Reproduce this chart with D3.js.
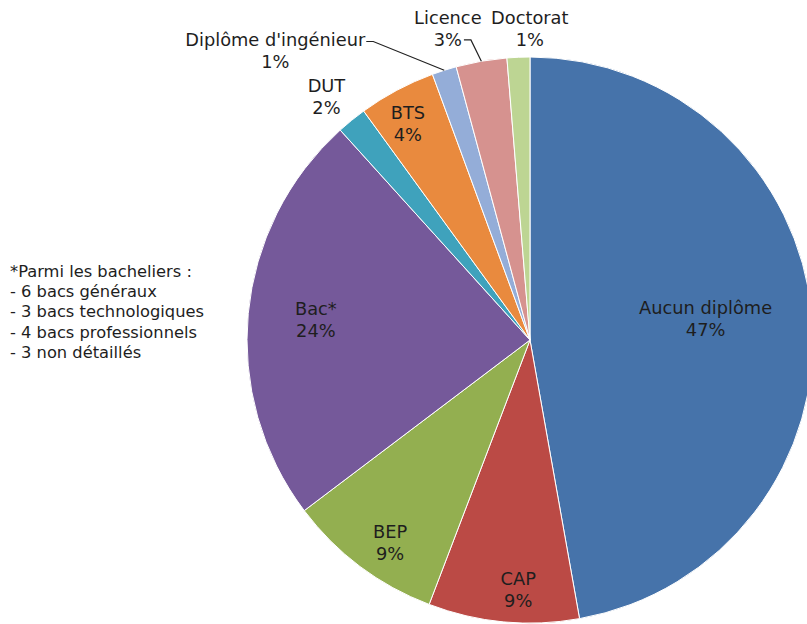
<!DOCTYPE html>
<html><head><meta charset="utf-8">
<script src="https://cdn.jsdelivr.net/npm/d3@7"></script>
<style>
html,body{margin:0;padding:0;background:#fff;}
svg{display:block;}
text{font-family:"DejaVu Sans",Verdana,sans-serif;fill:#1e1e1e;}
</style></head>
<body>
<svg id="chart" width="807" height="624"></svg>
<script>
// ---- data ----
const categories = ["Aucun diplôme","CAP","BEP","Bac*","DUT","BTS","Diplôme d'ingénieur","Licence","Doctorat"];
const values = [47.2, 8.6, 8.9, 23.6, 1.7, 4.4, 1.4, 2.9, 1.3];
const colors = ["#4673AA","#BB4A45","#93AF50","#75599A","#3FA2BC","#E98A3E","#94ADD8","#D6928F","#BDD593"];
const noteLines = ["*Parmi les bacheliers :","- 6 bacs généraux","- 3 bacs technologiques","- 4 bacs professionnels","- 3 non détaillés"];

// ---- layout ----
const W = 807, H = 624;
const cx = 530, cy = 340, R = 283;
// label placement: [radius fraction, angle adjustment in degrees, leader?]
const labelLayout = {
  "Aucun diplôme": [0.625, -1.8, false],
  "CAP": [0.884, -2.7, false],
  "BEP": [0.871, -2.3, false],
  "Bac*": [0.76, 0, false],
  "DUT": [1.12, -0.9, false],
  "BTS": [0.877, -1.4, false],
  "Diplôme d'ingénieur": [1.36, -23.8, true],
  "Licence": [1.137, -4.9, true],
  "Doctorat": [1.10, 2.3, false]
};
const fontSize = 17.8, lineH = 22;

const svg = d3.select("#chart");
const g = svg.append("g").attr("transform", `translate(${cx},${cy})`);

const data = categories.map((c, i) => ({ cat: c, value: values[i], color: colors[i] }));
const total = d3.sum(values);
const pie = d3.pie().value(d => d.value).sort(null).startAngle(0).endAngle(2 * Math.PI);
const arcs = pie(data);
const arc = d3.arc().innerRadius(0).outerRadius(R);

g.selectAll("path.slice").data(arcs).enter().append("path")
  .attr("class", "slice")
  .attr("d", arc)
  .attr("fill", d => d.data.color)
  .attr("stroke", "#ffffff")
  .attr("stroke-width", 1)
  .attr("stroke-linejoin", "round");

const fmt = v => Math.round(v / total * 100) + "%";

arcs.forEach(a => {
  const lay = labelLayout[a.data.cat];
  const mid = (a.startAngle + a.endAngle) / 2;
  const ang = mid + lay[1] * Math.PI / 180;
  const rr = lay[0] * R;
  const x = rr * Math.sin(ang), y = -rr * Math.cos(ang);
  const t = g.append("text")
    .attr("text-anchor", "middle")
    .attr("font-size", fontSize);
  t.append("tspan").attr("x", x).attr("y", y - lineH / 2 + 6).text(a.data.cat);
  const t2 = t.append("tspan").attr("x", x).attr("y", y + lineH / 2 + 6).text(fmt(a.data.value));
  if (lay[2]) {
    const rim = [R * Math.sin(mid), -R * Math.cos(mid)];
    let sx, sy;
    if (a.data.cat === "Licence") {
      const w = t2.node().getComputedTextLength();
      sx = x + w / 2 + 2; sy = y + lineH / 2;
    } else {
      const w = t.select("tspan").node().getComputedTextLength();
      sx = x + w / 2 + 1; sy = y - lineH / 2 + 1;
    }
    g.append("path")
      .attr("d", d3.line()([[sx, sy], [sx + 7, sy], rim]))
      .attr("fill", "none").attr("stroke", "#222").attr("stroke-width", 1.2);
  }
});

// ---- note ----
const note = svg.append("text").attr("font-size", 16.3);
noteLines.forEach((l, i) => {
  note.append("tspan").attr("x", 10).attr("y", 277 + i * 20.2).text(l);
});
</script>
</body></html>
